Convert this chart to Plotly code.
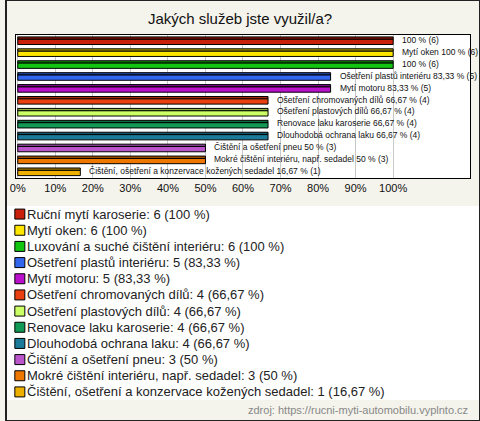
import plotly.graph_objects as go

categories = [
    "Ruční mytí karoserie",
    "Mytí oken",
    "Luxování a suché čištění interiéru",
    "Ošetření plastů interiéru",
    "Mytí motoru",
    "Ošetření chromovaných dílů",
    "Ošetření plastových dílů",
    "Renovace laku karoserie",
    "Dlouhodobá ochrana laku",
    "Čištění a ošetření pneu",
    "Mokré čištění interiéru, např. sedadel",
    "Čištění, ošetření a konzervace kožených sedadel",
]
counts = [6, 6, 6, 5, 5, 4, 4, 4, 4, 3, 3, 1]
percents = [100, 100, 100, 83.33, 83.33, 66.67, 66.67, 66.67, 66.67, 50, 50, 16.67]
pct_text = ["100", "100", "100", "83,33", "83,33", "66,67", "66,67", "66,67", "66,67", "50", "50", "16,67"]
bar_labels = [
    "100 % (6)",
    "Mytí oken 100 % (6)",
    "100 % (6)",
    "Ošetření plastů interiéru 83,33 % (5)",
    "Mytí motoru 83,33 % (5)",
    "Ošetření chromovaných dílů 66,67 % (4)",
    "Ošetření plastových dílů 66,67 % (4)",
    "Renovace laku karoserie 66,67 % (4)",
    "Dlouhodobá ochrana laku 66,67 % (4)",
    "Čištění a ošetření pneu 50 % (3)",
    "Mokré čištění interiéru, např. sedadel 50 % (3)",
    "Čištění, ošetření a konzervace kožených sedadel 16,67 % (1)",
]
legend_labels = [f"{c}: {n} ({p} %)" for c, n, p in zip(categories, counts, pct_text)]
tick_values = list(range(0, 101, 10))
tick_labels = [f"{v}%" for v in tick_values]

colors = ["#C8200A", "#FFE600", "#11C511", "#3366EE", "#BB11CC", "#E84010",
          "#CCFF66", "#119955", "#1A7A99", "#BB55CC", "#EE7700", "#EEB000"]


def darken(hex_color, f=0.7):
    r, g, b = (int(hex_color[i:i + 2], 16) for i in (1, 3, 5))
    return "#%02x%02x%02x" % (int(r * f), int(g * f), int(b * f))


top_colors = [darken(c) for c in colors]

W, H = 480, 421
BG = "#F4F3EC"
FONT = "Liberation Sans, Arial"


def py(p):
    return 1 - p / H


fig = go.Figure()
fig.add_bar(y=categories, x=percents, orientation="h", offset=-0.34, width=0.2,
            marker=dict(color=top_colors, line=dict(color="black", width=1)),
            hoverinfo="skip", showlegend=False)
fig.add_bar(y=categories, x=percents, orientation="h", offset=-0.14, width=0.44,
            marker=dict(color=colors, line=dict(color="black", width=1)),
            hoverinfo="skip", showlegend=False)

# legend drawn on a secondary axis pair
fig.add_scatter(x=[0] * len(categories), y=categories, xaxis="x2", yaxis="y2",
                mode="markers",
                marker=dict(symbol="square", size=10, color=colors,
                            line=dict(color="black", width=1)),
                cliponaxis=False, hoverinfo="skip", showlegend=False)

annotations = []
for cat, val, lab in zip(categories, percents, bar_labels):
    annotations.append(dict(x=val, y=cat, xref="x", yref="y", text=lab,
                            showarrow=False, xanchor="left", yanchor="middle",
                            xshift=7, yshift=1,
                            font=dict(family=FONT, size=8.5, color="#111111")))
for cat, lab in zip(categories, legend_labels):
    annotations.append(dict(x=0, y=cat, xref="x2", yref="y2", text=lab,
                            showarrow=False, xanchor="left", yanchor="middle",
                            xshift=5, yshift=0,
                            font=dict(family=FONT, size=13, color="#222222")))
annotations.append(dict(x=470 / W, y=py(410), xref="paper", yref="paper",
                        text="zdroj: https://rucni-myti-automobilu.vyplnto.cz",
                        showarrow=False, xanchor="right", yanchor="middle",
                        font=dict(family=FONT, size=11, color="#888888")))

fig.update_layout(
    width=W, height=H,
    margin=dict(l=0, r=0, t=0, b=0),
    paper_bgcolor=BG, plot_bgcolor="white",
    barmode="overlay",
    title=dict(text="Jakých služeb jste využil/a?", x=0.5, xanchor="center",
               y=py(19), yanchor="middle",
               font=dict(family=FONT, size=15, color="#111111")),
    xaxis=dict(domain=[10 / W, 470 / W], range=[-0.5, 120.5], tickvals=tick_values,
               ticktext=tick_labels, showgrid=True, gridcolor="#C8C8C8", gridwidth=1,
               zeroline=False, showline=True, linecolor="black", linewidth=1, mirror=True,
               ticks="", tickfont=dict(family=FONT, size=11, color="#111111"),
               fixedrange=True),
    yaxis=dict(domain=[py(178), py(35)], range=[11.5, -0.5], type="category",
               categoryorder="array", categoryarray=categories,
               showticklabels=False, showgrid=False, zeroline=False,
               showline=True, linecolor="black", linewidth=1, mirror=True, ticks="",
               fixedrange=True),
    xaxis2=dict(domain=[0, 1], range=[-14, 466], visible=False, anchor="y2", fixedrange=True),
    yaxis2=dict(domain=[py(400), py(206)], range=[11.5, -0.5], type="category",
                categoryorder="array", categoryarray=categories,
                visible=False, anchor="x2", fixedrange=True),
    annotations=annotations,
    shapes=[dict(type="rect", xref="paper", yref="paper", x0=0, y0=0, x1=1, y1=1,
                 line=dict(color="#222222", width=2), fillcolor="rgba(0,0,0,0)")],
    showlegend=False,
)

fig.write_html("out.html", config={"displayModeBar": False},
               post_script="document.body.style.margin='0';document.body.style.overflow='hidden';")
